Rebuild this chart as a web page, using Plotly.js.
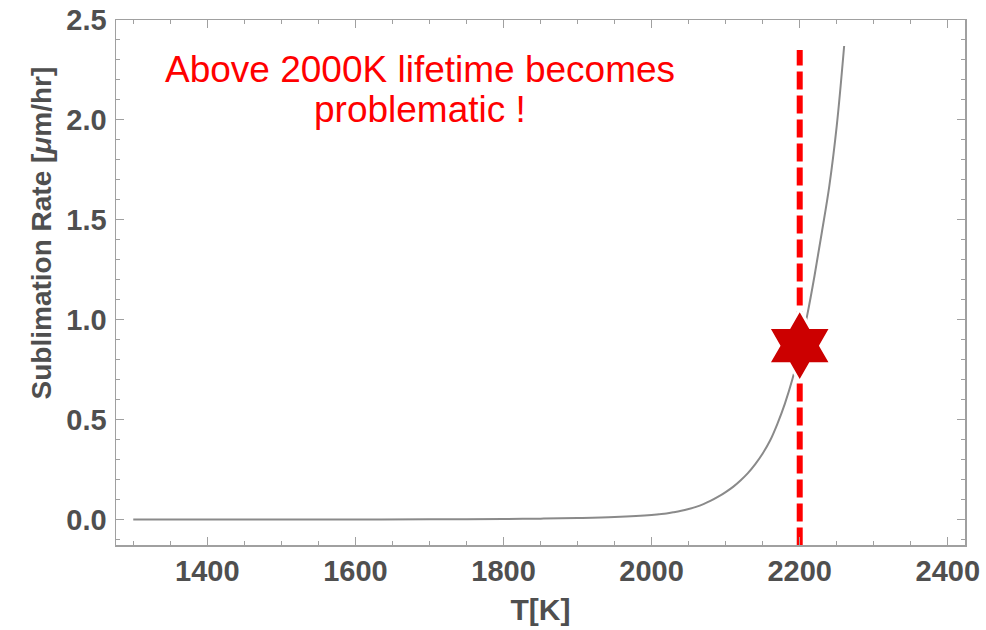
<!DOCTYPE html>
<html>
<head>
<meta charset="utf-8">
<script src="https://cdn.plot.ly/plotly-3.0.1.min.js"></script>
<style>
  html, body { margin: 0; padding: 0; background: #ffffff; }
  #chart { width: 986px; height: 630px; }
</style>
</head>
<body>
<div id="chart"></div>
<script>
// Sublimation rate of the emitter versus temperature
const temperatureK = [1300, 1400, 1500, 1600, 1700, 1750, 1800, 1850, 1900, 1950,
                      2000, 2010, 2020, 2030, 2040, 2050, 2060, 2070, 2080, 2090,
                      2100, 2110, 2120, 2130, 2140, 2150, 2160, 2170, 2180, 2190,
                      2200, 2210, 2220, 2230, 2240, 2250, 2260];
const sublimationRate = [0, 0, 0, 0, 0.0005, 0.001, 0.002, 0.004, 0.007, 0.012,
                         0.022, 0.026, 0.030, 0.036, 0.043, 0.052, 0.063, 0.077, 0.094, 0.114,
                         0.137, 0.163, 0.195, 0.232, 0.277, 0.330, 0.395, 0.48, 0.58, 0.70,
                         0.85, 1.02, 1.22, 1.44, 1.67, 1.97, 2.37];

// Marked operating point and the temperature limit line
const limitT = 2200;
const limitSpan = [-0.13, 2.35];
const pointT = [2200];
const pointRate = [0.87];

const noteLines = ['Above 2000K lifetime becomes', 'problematic !'];
const xLabel = 'T[K]';
const yLabel = 'Sublimation Rate [<i>μ</i>m/hr]';

const axisGray = '#a0a0a0';
const textGray = '#4f4f4f';
const boldFont = { family: 'Liberation Sans, Arial, sans-serif', size: 29, color: textGray, weight: 'bold' };

const traces = [
  {
    x: temperatureK, y: sublimationRate,
    type: 'scatter', mode: 'lines',
    line: { color: '#8a8a8a', width: 2, shape: 'spline', smoothing: 1 },
    hoverinfo: 'x+y'
  },
  {
    x: [limitT, limitT], y: limitSpan,
    type: 'scatter', mode: 'lines',
    line: { color: '#ff0000', width: 6, dash: '18px,6px' },
    hoverinfo: 'skip'
  },
  {
    x: pointT, y: pointRate,
    type: 'scatter', mode: 'markers',
    marker: { symbol: 'hexagram', size: 55, color: '#cc0000', line: { color: '#ffffff', width: 3 } },
    cliponaxis: false
  }
];

const layout = {
  width: 986, height: 630,
  margin: { l: 116, r: 21, t: 20, b: 85 },
  paper_bgcolor: '#ffffff', plot_bgcolor: '#ffffff',
  showlegend: false,
  xaxis: {
    range: [1276.7, 2423.2],
    tick0: 1400, dtick: 200,
    ticks: 'inside', ticklen: 8, tickwidth: 1.2, tickcolor: axisGray,
    minor: { dtick: 50, tick0: 1400, ticks: 'inside', ticklen: 4, tickwidth: 1, tickcolor: axisGray },
    showline: true, linecolor: axisGray, linewidth: 1.5, mirror: 'allticks',
    showgrid: false, zeroline: false,
    tickfont: boldFont,
    title: { text: xLabel, font: { family: 'Liberation Sans, Arial, sans-serif', size: 30, color: textGray, weight: 'bold' }, standoff: 12 }
  },
  yaxis: {
    range: [-0.128, 2.5],
    tick0: 0, dtick: 0.5, tickformat: '.1f',
    ticks: 'inside', ticklen: 8, tickwidth: 1.2, tickcolor: axisGray,
    minor: { dtick: 0.1, tick0: 0, ticks: 'inside', ticklen: 4, tickwidth: 1, tickcolor: axisGray },
    showline: true, linecolor: axisGray, linewidth: 1.5, mirror: 'allticks',
    showgrid: false, zeroline: false,
    tickfont: boldFont,
    ticklabelstandoff: 2
  },
  annotations: [
    {
      xref: 'paper', yref: 'paper', x: -0.088, y: 0.594,
      xanchor: 'center', yanchor: 'middle', textangle: -90, showarrow: false,
      text: yLabel,
      font: { family: 'Liberation Sans, Arial, sans-serif', size: 28, color: textGray, weight: 'bold' }
    },
    {
      xref: 'paper', yref: 'paper', x: 0.358, y: 0.905,
      xanchor: 'center', yanchor: 'middle', showarrow: false,
      text: noteLines[0],
      font: { family: 'Liberation Sans, Arial, sans-serif', size: 37, color: '#ff0000' }
    },
    {
      xref: 'paper', yref: 'paper', x: 0.358, y: 0.830,
      xanchor: 'center', yanchor: 'middle', showarrow: false,
      text: noteLines[1],
      font: { family: 'Liberation Sans, Arial, sans-serif', size: 37, color: '#ff0000' }
    }
  ]
};

Plotly.newPlot('chart', traces, layout, { displayModeBar: false, staticPlot: true });
</script>
</body>
</html>
